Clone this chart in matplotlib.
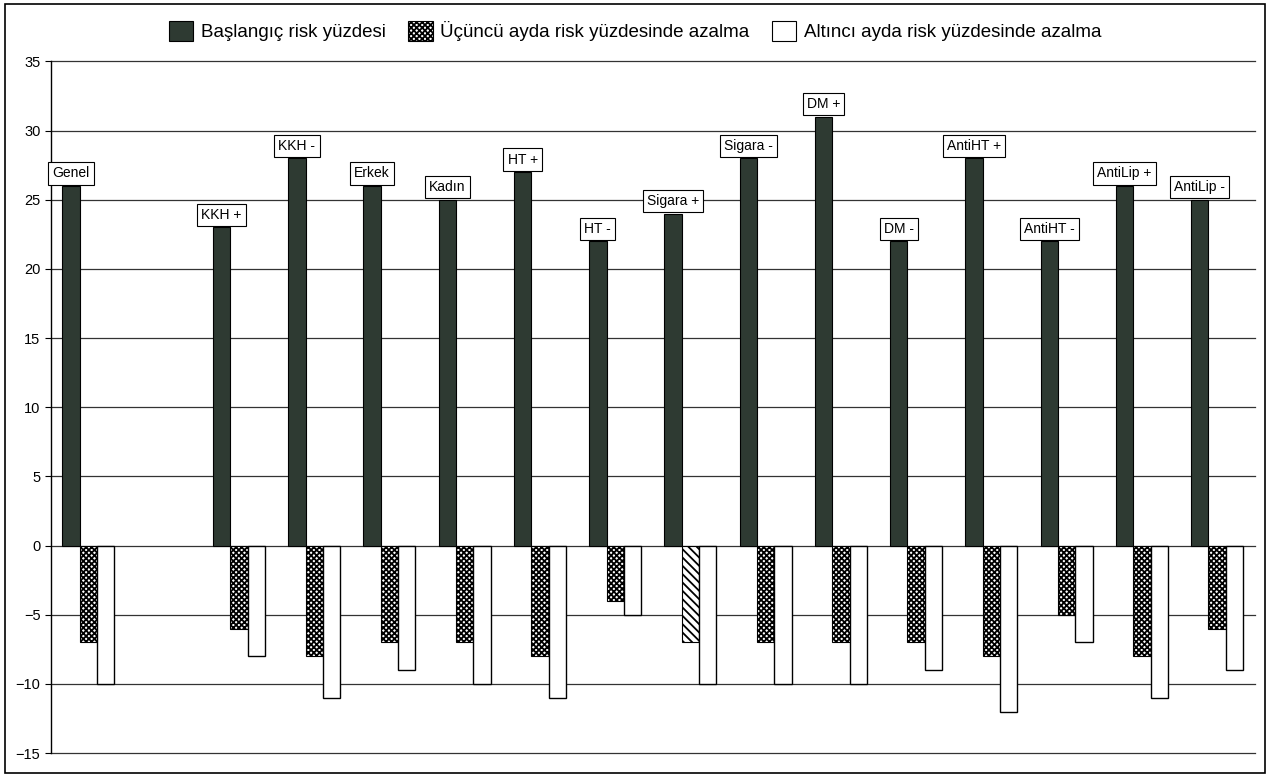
import numpy as np
import matplotlib.pyplot as plt
from matplotlib.patches import Patch

plt.rcParams['font.family'] = ['Liberation Sans', 'DejaVu Sans']
plt.rcParams['hatch.linewidth'] = 1.3

# categories (one blank slot after "Genel")
kategoriler = ['Genel', '', 'KKH +', 'KKH -', 'Erkek', 'Kadın', 'HT +', 'HT -',
               'Sigara +', 'Sigara -', 'DM +', 'DM -', 'AntiHT +', 'AntiHT -',
               'AntiLip +', 'AntiLip -']
baslangic = [26, np.nan, 23, 28, 26, 25, 27, 22, 24, 28, 31, 22, 28, 22, 26, 25]
ucuncu_ay = [-7, np.nan, -6, -8, -7, -7, -8, -4, -7, -7, -7, -7, -8, -5, -8, -6]
altinci_ay = [-10, np.nan, -8, -11, -9, -10, -11, -5, -10, -10, -10, -9, -12, -7, -11, -9]

koyu = '#2e3a32'
w = 0.23
x = np.arange(len(kategoriler))

fig = plt.figure(figsize=(12.7, 7.78), dpi=100)
ax = fig.add_axes([0.040, 0.032, 0.948, 0.889])

# horizontal grid lines every 5
for yv in range(-15, 40, 5):
    ax.axhline(yv, color='#333333', lw=0.9, zorder=0, clip_on=False)

b1 = ax.bar(x - w, baslangic, w, color=koyu, edgecolor='black', lw=0.8, zorder=3)
b2 = ax.bar(x, ucuncu_ay, w, color='white', edgecolor='black', hatch='xxxxxx', lw=0.8, zorder=3)
b3 = ax.bar(x + w, altinci_ay, w, color='white', edgecolor='black', lw=1.0, zorder=3)

# Sigara + uses a diagonal fill in the 3rd month series
b2[kategoriler.index('Sigara +')].set_hatch('\\\\\\\\')

# boxed name above each starting bar
for xi, v, ad in zip(x, baslangic, kategoriler):
    if not ad:
        continue
    ax.annotate(ad, (xi - w, v), xytext=(0, 4), textcoords='offset points',
                ha='center', va='bottom', fontsize=10, zorder=5,
                bbox=dict(boxstyle='square,pad=0.3', fc='white', ec='black', lw=0.8))

ax.set_xlim(-0.5, len(kategoriler) - 0.5)
ax.set_ylim(-15, 35)
ax.set_yticks(range(-15, 40, 5))
ax.tick_params(axis='y', labelsize=10.5, length=4, width=0.8)
ax.set_xticks([])
for s in ['top', 'right', 'bottom']:
    ax.spines[s].set_visible(False)
ax.spines['left'].set_linewidth(1.0)

handles = [Patch(fc=koyu, ec='black', lw=0.8),
           Patch(fc='white', ec='black', hatch='xxxxxx', lw=0.8),
           Patch(fc='white', ec='black', lw=0.8)]
labels = ['Başlangıç risk yüzdesi', 'Üçüncü ayda risk yüzdesinde azalma',
          'Altıncı ayda risk yüzdesinde azalma']
fig.legend(handles, labels, loc='upper center', bbox_to_anchor=(0.5, 0.995),
           ncol=3, frameon=False, fontsize=13.5, handlelength=1.3, handleheight=1.3,
           handletextpad=0.4, columnspacing=1.2)

# outer frame round the figure
fig.patches.append(plt.Rectangle((0.004, 0.007), 0.992, 0.988, transform=fig.transFigure,
                                 fill=False, ec='black', lw=1.2))

fig.savefig('out.png', dpi=100)
